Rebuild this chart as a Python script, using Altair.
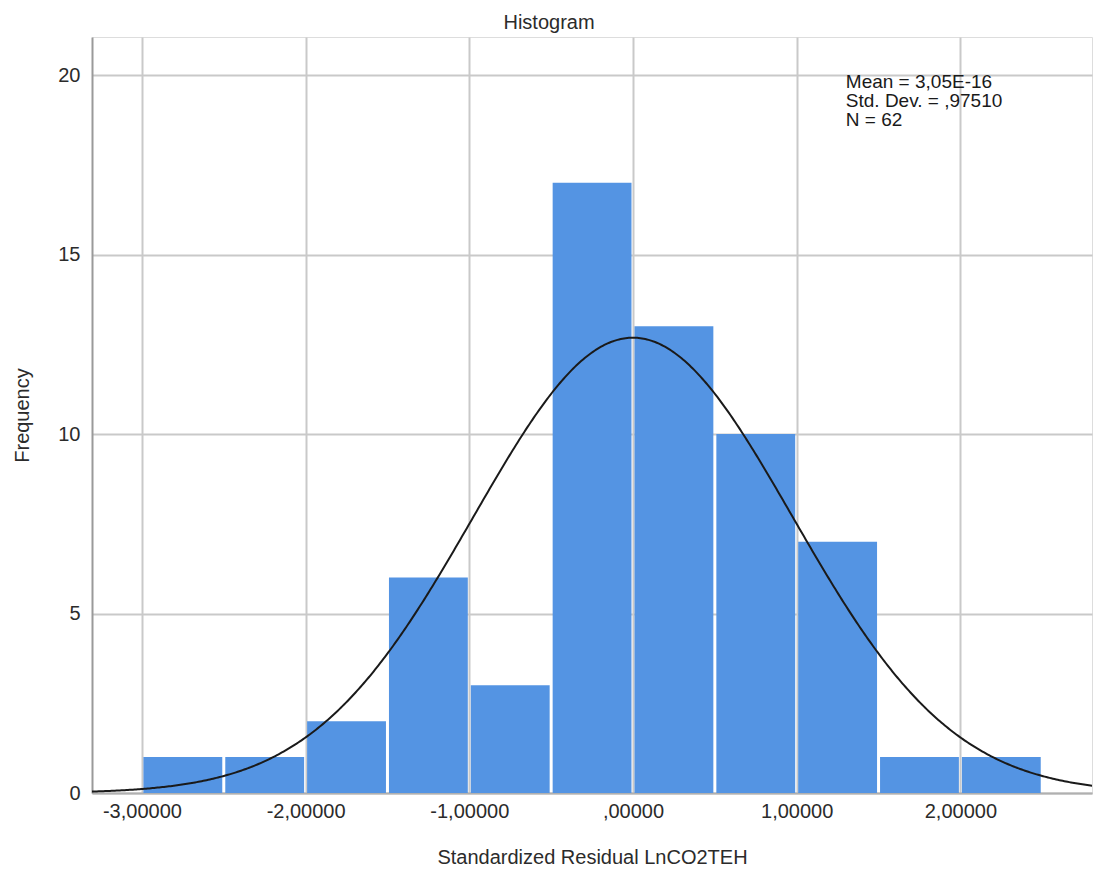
import altair as alt
import pandas as pd

# Histogram bins (standardized residuals), width 0.5
bin_start = [-3.0, -2.5, -2.0, -1.5, -1.0, -0.5, 0.0, 0.5, 1.0, 1.5, 2.0]
bin_end = [-2.5, -2.0, -1.5, -1.0, -0.5, 0.0, 0.5, 1.0, 1.5, 2.0, 2.5]
counts = [1, 1, 2, 6, 3, 17, 13, 10, 7, 1, 1]

# Displayed statistics (normal curve fitted from these)
MEAN = 3.05e-16
SD = 0.97510
N = 62
BIN_W = 0.5

x_ticks = [-3, -2, -1, 0, 1, 2]
y_ticks = [0, 5, 10, 15, 20]
stats_lines = ["Mean = 3,05E-16", "Std. Dev. = ,97510", "N = 62"]

X_DOMAIN = [-3.305, 2.804]
Y_DOMAIN = [0, 21.06]

FONT = "Liberation Sans"
TXT = "#2b2b2b"
FS = 20

bars_df = pd.DataFrame({"start": bin_start, "end": bin_end, "count": counts})

xscale = alt.Scale(domain=X_DOMAIN, nice=False, zero=False)
yscale = alt.Scale(domain=Y_DOMAIN, nice=False, zero=False)

x_axis = alt.Axis(
    title="Standardized Residual LnCO2TEH",
    values=x_ticks,
    labelExpr="datum.value == 0 ? ',00000' : replace(replace(format(datum.value, '.5f'), '.', ','), '\u2212', '-')",
    grid=True, gridColor="#c9c9c9", gridWidth=2,
    ticks=False, labelPadding=8, labelFontSize=FS, labelFont=FONT, labelColor=TXT,
    domainColor="#b0b0b0", domainWidth=2,
    titleFont=FONT, titleFontSize=FS, titleFontWeight="normal", titleColor=TXT,
    titleX=500, titleY=70, titleBaseline="alphabetic", titleAnchor="middle", titleAlign="center",
)
y_axis = alt.Axis(
    title="Frequency",
    values=y_ticks,
    grid=True, gridColor="#c9c9c9", gridWidth=2,
    ticks=False, labelPadding=12, labelFontSize=FS, labelFont=FONT, labelColor=TXT,
    domainColor="#9a9a9a", domainWidth=2,
    titleFont=FONT, titleFontSize=FS, titleFontWeight="normal", titleColor=TXT,
    titleX=-70, titleY=378, titleBaseline="middle", titleAngle=-90, titleAlign="center",
)

bars = alt.Chart(bars_df).mark_bar(
    color="#5494e3", xOffset=1.5, x2Offset=-1.5
).encode(
    x=alt.X("start:Q", scale=xscale, axis=x_axis),
    x2="end:Q",
    y=alt.Y("count:Q", scale=yscale, axis=y_axis),
    y2=alt.datum(0),
)

curve = alt.Chart(
    alt.sequence(start=X_DOMAIN[0], stop=X_DOMAIN[1] + 0.01, step=0.01, as_="x")
).transform_calculate(
    density=f"{N}*{BIN_W}/({SD}*sqrt(2*PI))*exp(-0.5*pow((datum.x-{MEAN})/{SD},2))"
).mark_line(color="#1a1a1a", strokeWidth=2, clip=True).encode(
    x=alt.X("x:Q", scale=xscale, axis=x_axis),
    y=alt.Y("density:Q", scale=yscale, axis=y_axis),
)

stats = alt.Chart(pd.DataFrame({"x": [1.3], "y": [20.05], "t": ["\n".join(stats_lines)]})).mark_text(
    align="left", baseline="top", font=FONT, fontSize=19, lineHeight=19, color="#1a1a1a", lineBreak="\n"
).encode(
    x=alt.X("x:Q", scale=xscale, axis=x_axis),
    y=alt.Y("y:Q", scale=yscale, axis=y_axis),
    text="t:N",
)

chart = alt.layer(bars, curve, stats).properties(
    width=1000, height=756,
    autosize=alt.AutoSizeParams(type="none"),
    padding={"left": 92, "top": 37, "right": 2, "bottom": 77},
    title=alt.TitleParams(
        "Histogram", font=FONT, fontSize=FS, fontWeight="normal", color=TXT,
        anchor="middle", frame="group", dx=-43, dy=22, offset=10, baseline="alphabetic",
    ),
).configure_view(stroke=None).configure(background="white")

chart.save("out.html", embed_options={"renderer": "svg", "actions": False})
